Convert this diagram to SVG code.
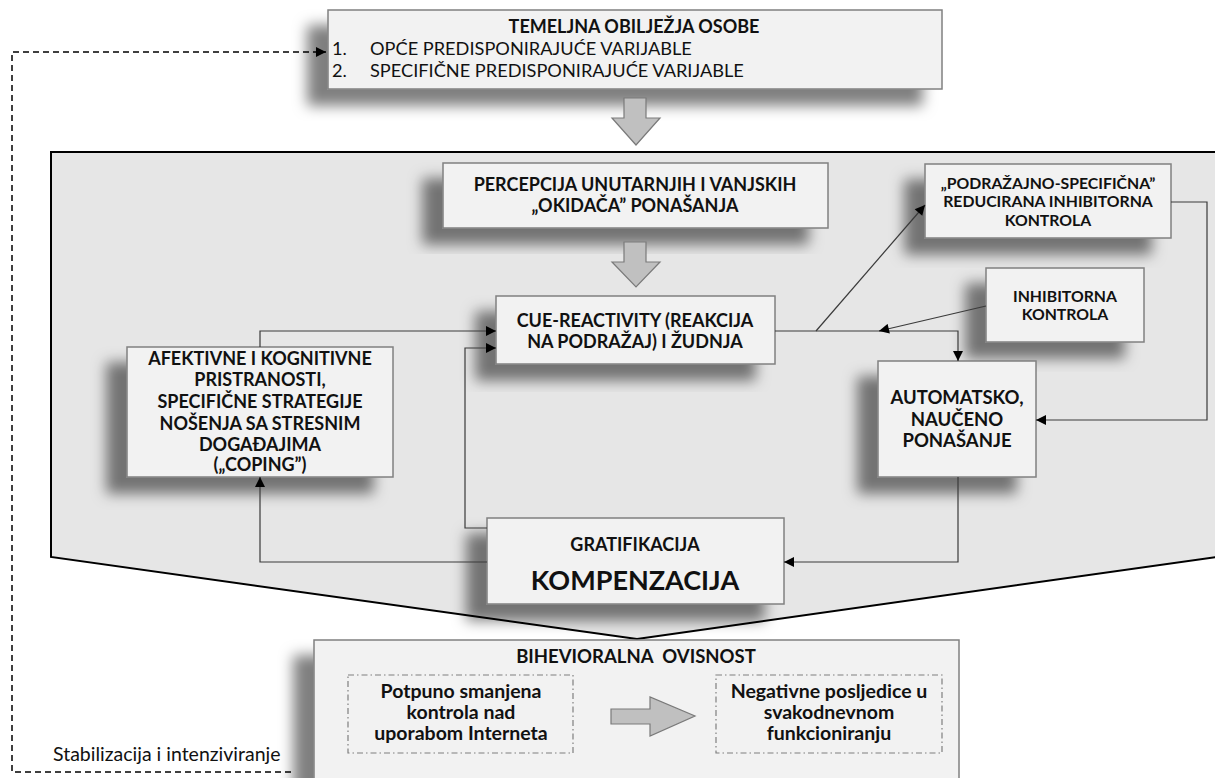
<svg xmlns="http://www.w3.org/2000/svg" width="1215" height="778" viewBox="0 0 1215 778">
  <defs>
    <filter id="shadow" x="-30%" y="-30%" width="160%" height="170%">
      <feDropShadow dx="-20" dy="16" stdDeviation="7" flood-color="#000" flood-opacity="0.5"/>
    </filter>
    <marker id="arrow" viewBox="0 0 10 10" refX="10" refY="5" markerWidth="11" markerHeight="10" markerUnits="userSpaceOnUse" orient="auto">
      <path d="M0,0 L10,5 L0,10 z" fill="#000"/>
    </marker>
  </defs>
  <style>
    .box { fill: #f2f2f2; stroke: #808080; stroke-width: 1.5; }
    .sh { filter: url(#shadow); }
    .block { fill: #c0c0c0; stroke: #7a7a7a; stroke-width: 1.2; }
    .dd { fill: none; stroke: #7f7f7f; stroke-width: 1.2; stroke-dasharray: 6 3 1.5 3; }
    .conn { fill: none; stroke: #3a3a3a; stroke-width: 1.2; }
    .dash { fill: none; stroke: #000; stroke-width: 1.5; stroke-dasharray: 6 4; }
    text { font-family: Lato, "Noto Sans", "DejaVu Sans", sans-serif; fill: #111; }
    .b { font-weight: bold; }
    .c { text-anchor: middle; }
    .t { font-size: 18px; }
    .s { font-size: 15.8px; }
    .l { font-size: 19.5px; }
  </style>

  <!-- feedback loop: stabilisation and intensification -->
  <g id="loop">
    <path class="dash" d="M291,772 H12 V52 H326" marker-end="url(#arrow)"/>
    <text x="53" y="761" style="font-size:19.5px">Stabilizacija i intenziviranje</text>
  </g>

  <!-- personal characteristics -->
  <g id="n-temelj">
    <rect class="box sh" x="328" y="10" width="614" height="79"/>
    <text class="b c" x="634" y="33" style="font-size:18px">TEMELJNA OBILJEŽJA OSOBE</text>
    <text x="332" y="55" style="font-size:18.2px">1.</text>
    <text x="370" y="55" style="font-size:18.2px">OPĆE PREDISPONIRAJUĆE VARIJABLE</text>
    <text x="332" y="77" style="font-size:18.2px">2.</text>
    <text x="370" y="77" style="font-size:18.2px">SPECIFIČNE PREDISPONIRAJUĆE VARIJABLE</text>
  </g>

  <polygon id="a-top" class="block" points="624,98 646,98 646,118 660,118 636,145 612,118 624,118"/>

  <!-- process frame -->
  <polygon id="frame" points="51,152 1216,152 1216,557 637,639 51,557" fill="#e6e6e6" stroke="#000" stroke-width="2"/>

  <g id="n-percepcija">
    <rect class="box sh" x="443" y="163" width="385" height="65"/>
    <text class="b c t" x="635" y="191">PERCEPCIJA UNUTARNJIH I VANJSKIH</text>
    <text class="b c t" x="635" y="212">„OKIDAČA” PONAŠANJA</text>
  </g>

  <polygon id="a-mid" class="block" points="624,242 646,242 646,262 660,262 636,287 612,262 624,262"/>

  <g id="n-cue">
    <rect class="box sh" x="496" y="296" width="279" height="68"/>
    <text class="b c t" x="635" y="327">CUE-REACTIVITY (REAKCIJA</text>
    <text class="b c t" x="635" y="348">NA PODRAŽAJ) I ŽUDNJA</text>
  </g>

  <g id="n-podrazajno">
    <rect class="box sh" x="925" y="164" width="246" height="74"/>
    <text class="b c s" x="1048" y="189">„PODRAŽAJNO-SPECIFIČNA”</text>
    <text class="b c s" x="1048" y="207">REDUCIRANA INHIBITORNA</text>
    <text class="b c s" x="1048" y="226">KONTROLA</text>
  </g>

  <g id="n-inhibitorna">
    <rect class="box sh" x="986" y="268" width="158" height="74"/>
    <text class="b c s" x="1065" y="302">INHIBITORNA</text>
    <text class="b c s" x="1065" y="320">KONTROLA</text>
  </g>

  <g id="n-automatsko">
    <rect class="box sh" x="878" y="361" width="158" height="116"/>
    <text class="b c" x="957" y="404" style="font-size:18.5px">AUTOMATSKO,</text>
    <text class="b c" x="957" y="426" style="font-size:18.5px">NAUČENO</text>
    <text class="b c" x="957" y="447" style="font-size:18.5px">PONAŠANJE</text>
  </g>

  <g id="n-afektivne">
    <rect class="box sh" x="127" y="347" width="266" height="130"/>
    <text class="b c t" x="260" y="365">AFEKTIVNE I KOGNITIVNE</text>
    <text class="b c t" x="260" y="386">PRISTRANOSTI,</text>
    <text class="b c t" x="260" y="408">SPECIFIČNE STRATEGIJE</text>
    <text class="b c t" x="260" y="430">NOŠENJA SA STRESNIM</text>
    <text class="b c t" x="260" y="451">DOGAĐAJIMA</text>
    <text class="b c t" x="260" y="471">(„COPING”)</text>
  </g>

  <g id="n-gratifikacija">
    <rect class="box sh" x="487" y="518" width="297" height="86"/>
    <text class="b c" x="635" y="551" style="font-size:18px">GRATIFIKACIJA</text>
    <text class="b c" x="635" y="590" style="font-size:27px">KOMPENZACIJA</text>
  </g>

  <!-- behavioural addiction -->
  <g id="n-ovisnost">
    <rect class="box sh" x="314" y="640" width="645" height="150"/>
    <text class="b c" x="636" y="663" style="font-size:18.5px; word-spacing:5px">BIHEVIORALNA OVISNOST</text>
    <rect class="dd" x="348" y="675" width="225" height="78"/>
    <text class="b c l" x="461" y="698">Potpuno smanjena</text>
    <text class="b c l" x="461" y="719">kontrola nad</text>
    <text class="b c l" x="461" y="740">uporabom Interneta</text>
    <polygon class="block" points="611,709 650,709 650,697 695,716 650,736 650,724 611,724"/>
    <rect class="dd" x="716" y="675" width="226" height="78"/>
    <text class="b c l" x="829" y="698">Negativne posljedice u</text>
    <text class="b c l" x="829" y="719">svakodnevnom</text>
    <text class="b c l" x="829" y="740">funkcioniranju</text>
  </g>

  <g id="connectors">
    <path class="conn" d="M260,347 V331 H496" marker-end="url(#arrow)"/>
    <path class="conn" d="M487,528 H465 V348 H496" marker-end="url(#arrow)"/>
    <path class="conn" d="M487,562 H260 V477" marker-end="url(#arrow)"/>
    <path class="conn" d="M775,331 H958 V361" marker-end="url(#arrow)"/>
    <path class="conn" d="M816,331 L925,205" marker-end="url(#arrow)"/>
    <path class="conn" d="M986,306 L879,331" marker-end="url(#arrow)"/>
    <path class="conn" d="M1171,202 H1207 V420 H1036" marker-end="url(#arrow)"/>
    <path class="conn" d="M958,477 V562 H784" marker-end="url(#arrow)"/>
  </g>
</svg>
